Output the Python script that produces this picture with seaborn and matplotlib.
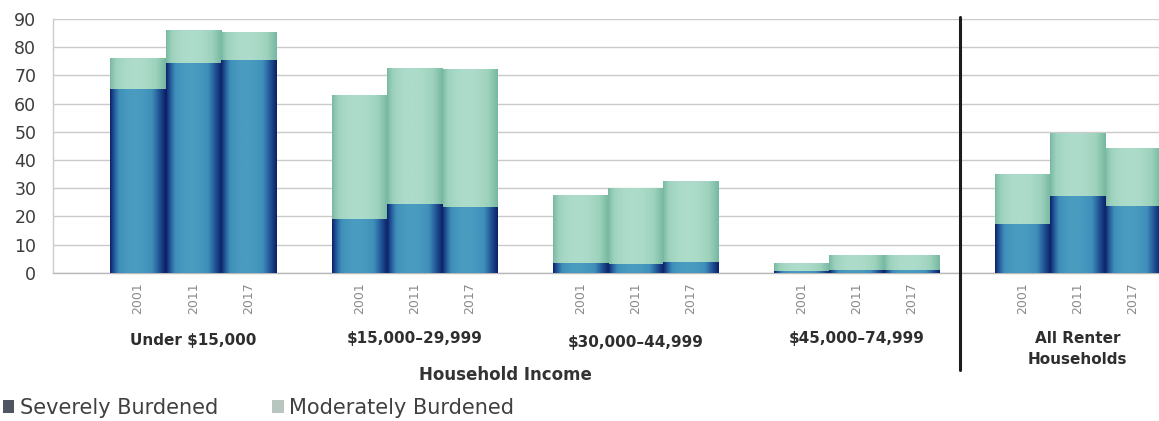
import numpy as np
import pandas as pd
import matplotlib
matplotlib.use("Agg")
import matplotlib.pyplot as plt
import matplotlib.transforms as mtransforms
from matplotlib.colors import LinearSegmentedColormap
from matplotlib.patches import Patch
import seaborn as sns

# ---- data: share of renter households with cost burdens (%) ----
income_groups = ["Under $15,000", "$15,000–29,999", "$30,000–44,999",
                 "$45,000–74,999", "All Renter\nHouseholds"]
years = ["2001", "2011", "2017"]
severe = [65.2, 74.3, 75.4,
          19.0, 24.4, 23.4,
          3.3, 3.0, 3.9,
          0.6, 0.8, 0.8,
          17.1, 27.2, 23.7]
moderate = [10.8, 11.8, 9.9,
            44.0, 48.1, 48.7,
            24.3, 26.9, 28.6,
            2.7, 5.5, 5.5,
            17.8, 22.5, 20.4]
y_ticks = [0, 10, 20, 30, 40, 50, 60, 70, 80, 90]
series_labels = ["Severely Burdened", "Moderately Burdened"]
x_title = "Household Income"

rows = []
for gi, grp in enumerate(income_groups):
    for yi, yr in enumerate(years):
        k = gi * len(years) + yi
        rows.append({"group": grp, "year": yr, "pos": gi * 4 + yi,
                     "severe": severe[k], "moderate": moderate[k]})
df = pd.DataFrame(rows)
df["total"] = df["severe"] + df["moderate"]

sns.set_style("white")
plt.rcParams["font.family"] = ["DejaVu Sans"]

W, H = 1159, 421
fig = plt.figure(figsize=(W / 100, H / 100), dpi=100)
ax = fig.add_axes([53 / W, (H - 272.7) / H, (W - 53) / W, 253.7 / H])

sev_cmap = LinearSegmentedColormap.from_list("sev", ["#0b1c63", "#1f4f93", "#3f8fba", "#4a9cc0"])
mod_cmap = LinearSegmentedColormap.from_list("mod", ["#74b69e", "#9dd2bd", "#aedccb"])

n0 = len(ax.patches)
sns.barplot(data=df, x="pos", y="total", native_scale=True, width=1.0,
            color="#9dd2bd", saturation=1, errorbar=None, linewidth=0, ax=ax)
n1 = len(ax.patches)
sns.barplot(data=df, x="pos", y="severe", native_scale=True, width=1.0,
            color="#2f6ea6", saturation=1, errorbar=None, linewidth=0, ax=ax)
n2 = len(ax.patches)

# cylinder-like horizontal shading inside every bar
t = np.linspace(0, 1, 256)
profile = (np.sin(np.pi * t ** 0.85) ** 0.9).reshape(1, -1)


def shade(patches, cmap, z):
    for p in patches:
        x0, y0 = p.get_x(), p.get_y()
        w, h = p.get_width(), p.get_height()
        p.set_facecolor("none")
        if h <= 0:
            continue
        im = ax.imshow(profile, cmap=cmap, vmin=0, vmax=1,
                       extent=[x0, x0 + w, y0, y0 + h], aspect="auto",
                       interpolation="bilinear", zorder=z)
        im.set_clip_path(p)


shade(ax.patches[n0:n1], mod_cmap, 2)
shade(ax.patches[n1:n2], sev_cmap, 3)

ax.set_xlim(-1.54, 18.47)
ax.set_ylim(0, 90)
ax.set_aspect("auto")

# axes styling
ax.set_axisbelow(True)
ax.yaxis.grid(True, color="#cacaca", linewidth=1.0)
ax.xaxis.grid(False)
for s in ["top", "right"]:
    ax.spines[s].set_visible(False)
ax.spines["left"].set_color("#cccccc")
ax.spines["bottom"].set_color("#b8b8b8")
ax.spines["left"].set_linewidth(1.0)
ax.spines["bottom"].set_linewidth(1.0)

ax.set_yticks(y_ticks)
ax.set_yticklabels([str(v) for v in y_ticks], fontsize=12.5, color="#3c3c3c")
ax.tick_params(axis="y", length=4, width=0.8, color="#bcbcbc", pad=8)

ax.set_xticks(df["pos"].tolist())
ax.set_xticklabels(df["year"].tolist(), rotation=90, fontsize=9, color="#8a8a8a")
ax.tick_params(axis="x", length=0, pad=7)
ax.set_xlabel("")
ax.set_ylabel("")

# income group labels under the year ticks
blend = mtransforms.blended_transform_factory(ax.transData, fig.transFigure)
label_y = [340, 339, 343, 338, 349]
for gi, grp in enumerate(income_groups):
    cx = df.loc[df["group"] == grp, "pos"].mean()
    ax.text(cx, (H - label_y[gi]) / H, grp, transform=blend, ha="center",
            va="center", fontsize=11, fontweight="bold", color="#2e2e2e",
            linespacing=1.45)

fig.text(505 / W, (H - 375) / H, x_title, ha="center", va="center",
         fontsize=12, fontweight="bold", color="#333333")

# divider between income bands and the all-renter total
ax.axvline(14.87, ymin=-0.383, ymax=1.008, color="#1c1c1c", linewidth=2.2,
           clip_on=False, zorder=5)

handles = [Patch(facecolor="#4f5661", edgecolor="none"),
           Patch(facecolor="#b9c6c0", edgecolor="none")]
fig.legend(handles, series_labels, loc="center left",
           bbox_to_anchor=(3 / W, (H - 408) / H), ncol=2, frameon=False,
           fontsize=15, handlelength=0.55, handleheight=0.55, handletextpad=0.25,
           columnspacing=2.6, borderaxespad=0, borderpad=0, labelcolor="#404040")

fig.savefig("out.png", dpi=100)
